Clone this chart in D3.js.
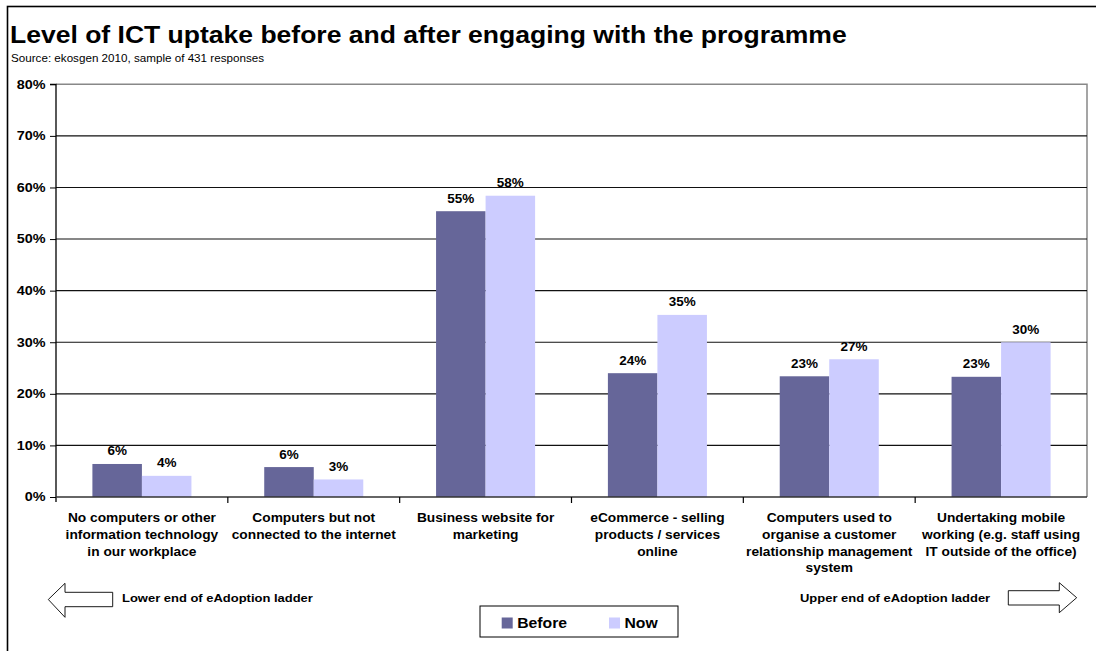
<!DOCTYPE html>
<html>
<head>
<meta charset="utf-8">
<script src="https://cdn.jsdelivr.net/npm/d3@7"></script>
<style>
  html, body { margin: 0; padding: 0; background: #fff; }
  svg { display: block; font-family: "Liberation Sans", Arial, sans-serif; }
</style>
</head>
<body>
<svg id="chart" width="1096" height="651"></svg>
<script>
// ICT uptake survey results, percentage of businesses
const categories = [
  ["No computers or other", "information technology", "in our workplace"],
  ["Computers but not", "connected to the internet"],
  ["Business website for", "marketing"],
  ["eCommerce - selling", "products / services", "online"],
  ["Computers used to", "organise a customer", "relationship management", "system"],
  ["Undertaking mobile", "working (e.g. staff using", "IT outside of the office)"]
];
const seriesNames = ["Before", "Now"];
const beforeValues = [6.4, 5.8, 55.4, 24.0, 23.4, 23.3];
const nowValues = [4.1, 3.4, 58.4, 35.3, 26.7, 30.0];
const yTicks = [0, 10, 20, 30, 40, 50, 60, 70, 80];
const colors = ["#666699", "#CCCCFF"];

const titleText = "Level of ICT uptake before and after engaging with the programme";
const sourceText = "Source: ekosgen 2010, sample of 431 responses";
const lowerText = "Lower end of eAdoption ladder";
const upperText = "Upper end of eAdoption ladder";

const svg = d3.select("#chart");

// place a text at (x, y), widened horizontally by sx
function place(sel, x, y, sx) {
  return sel.attr("x", 0).attr("y", 0)
    .attr("transform", `translate(${x},${y}) scale(${sx},1)`);
}

// outer frame
svg.append("rect")
  .attr("x", 7.5).attr("y", 6.5)
  .attr("width", 1100).attr("height", 660)
  .attr("fill", "none").attr("stroke", "#000").attr("stroke-width", 1.6);

// title and source
svg.append("text")
  .attr("font-size", 24).attr("font-weight", "bold").attr("fill", "#000")
  .text(titleText)
  .call(place, 10, 43, 1.105);
svg.append("text")
  .attr("font-size", 10.5).attr("fill", "#000")
  .text(sourceText)
  .call(place, 11, 61.5, 1.11);

// plot geometry
const plot = { left: 56, right: 1087, top: 84.3, bottom: 497 };

const x0 = d3.scaleBand()
  .domain(d3.range(categories.length))
  .range([plot.left, plot.right])
  .padding(0);
const x1 = d3.scaleBand()
  .domain(seriesNames)
  .range([0, x0.bandwidth()])
  .paddingInner(0)
  .paddingOuter(0.735);
const y = d3.scaleLinear().domain([0, 80]).range([plot.bottom, plot.top]);

// plot area border (top and right)
svg.append("path")
  .attr("d", `M${plot.left},${plot.top}H${plot.right}V${plot.bottom}`)
  .attr("fill", "none").attr("stroke", "#888").attr("stroke-width", 1.5);

// gridlines
svg.append("g")
  .selectAll("line")
  .data(yTicks.filter(d => d > 0 && d < 80))
  .join("line")
  .attr("x1", plot.left).attr("x2", plot.right)
  .attr("y1", d => y(d)).attr("y2", d => y(d))
  .attr("stroke", "#111").attr("stroke-width", 1.1);

// bars
const rows = categories.map((c, i) => ({ i, values: [beforeValues[i], nowValues[i]] }));
const groups = svg.append("g").selectAll("g")
  .data(rows).join("g")
  .attr("transform", d => `translate(${x0(d.i)},0)`);

groups.selectAll("rect")
  .data(d => d.values.map((v, k) => ({ key: seriesNames[k], v, k })))
  .join("rect")
  .attr("x", d => x1(d.key))
  .attr("width", x1.bandwidth())
  .attr("y", d => y(d.v))
  .attr("height", d => y(0) - y(d.v))
  .attr("fill", d => colors[d.k]);

groups.selectAll("text")
  .data(d => d.values.map((v, k) => ({ key: seriesNames[k], v, k })))
  .join("text")
  .attr("text-anchor", "middle")
  .attr("font-size", 12.5).attr("font-weight", "bold").attr("fill", "#000")
  .text(d => d3.format(".0f")(d.v) + "%")
  .each(function (d) {
    d3.select(this).call(place, x1(d.key) + x1.bandwidth() / 2, y(d.v) - 8.5, 1.08);
  });

// y axis
const ySx = 1.2;
const yAxis = d3.axisLeft(y).tickValues(yTicks).tickFormat(d => d + "%").tickSize(6).tickPadding(5);
const gy = svg.append("g").attr("transform", `translate(${plot.left},0)`).call(yAxis);
gy.select(".domain").attr("stroke", "#000").attr("stroke-width", 1.3)
  .attr("d", `M-6,${plot.top}H0V${plot.bottom + 5}`);
gy.selectAll(".tick line").attr("stroke", "#000");
gy.selectAll(".tick text")
  .attr("font-family", "Liberation Sans, Arial, sans-serif")
  .attr("font-size", 12).attr("font-weight", "bold").attr("fill", "#000")
  .attr("x", -10.5 / ySx)
  .attr("transform", `scale(${ySx},1)`);

// x axis baseline and category separators
const boundaries = d3.range(categories.length + 1).map(i => i < categories.length ? x0(i) : plot.right);
svg.append("line")
  .attr("x1", plot.left).attr("x2", plot.right)
  .attr("y1", plot.bottom).attr("y2", plot.bottom)
  .attr("stroke", "#333").attr("stroke-width", 1.6);
svg.append("g").selectAll("line")
  .data(boundaries.slice(1, -1))
  .join("line")
  .attr("x1", d => d).attr("x2", d => d)
  .attr("y1", plot.bottom).attr("y2", plot.bottom + 6)
  .attr("stroke", "#000").attr("stroke-width", 1.2);

// category labels
const catLabels = svg.append("g").selectAll("text")
  .data(categories.map((lines, i) => ({ lines, i })))
  .join("text")
  .attr("text-anchor", "middle")
  .attr("font-size", 12.5).attr("font-weight", "bold").attr("fill", "#000")
  .attr("transform", d => `translate(${x0(d.i) + x0.bandwidth() / 2},522) scale(1.1,1)`);
catLabels.selectAll("tspan")
  .data(d => d.lines)
  .join("tspan")
  .attr("x", 0)
  .attr("y", (d, j) => j * 16.8)
  .text(d => d);

// ladder arrows
const arrowStyle = sel => sel.attr("fill", "#fff").attr("stroke", "#000").attr("stroke-width", 0.9);
svg.append("path")
  .attr("d", "M48.3,599.5 L65,583.3 L65,592.3 L112.7,592.3 L112.7,606.7 L65,606.7 L65,617.3 Z")
  .call(arrowStyle);
svg.append("path")
  .attr("d", "M1076.7,597.7 L1059.3,582.7 L1059.3,590.7 L1008.3,590.7 L1008.3,605 L1059.3,605 L1059.3,612.7 Z")
  .call(arrowStyle);
svg.append("text")
  .attr("font-size", 11).attr("font-weight", "bold").text(lowerText)
  .call(place, 122, 601.7, 1.18);
svg.append("text")
  .attr("font-size", 11).attr("font-weight", "bold").text(upperText)
  .call(place, 800, 601.7, 1.18);

// legend
const legend = svg.append("g");
legend.append("rect")
  .attr("x", 480).attr("y", 606)
  .attr("width", 198).attr("height", 31)
  .attr("fill", "#fff").attr("stroke", "#000").attr("stroke-width", 1);
const legendX = [501.7, 609];
const legendItems = legend.selectAll("g")
  .data(seriesNames)
  .join("g")
  .attr("transform", (d, i) => `translate(${legendX[i]},617.5)`);
legendItems.append("rect")
  .attr("width", 11).attr("height", 11)
  .attr("fill", (d, i) => colors[i]);
legendItems.append("text")
  .attr("font-size", 15).attr("font-weight", "bold").attr("fill", "#000")
  .text(d => d)
  .call(place, 15.5, 10, 1.05);
</script>
</body>
</html>
